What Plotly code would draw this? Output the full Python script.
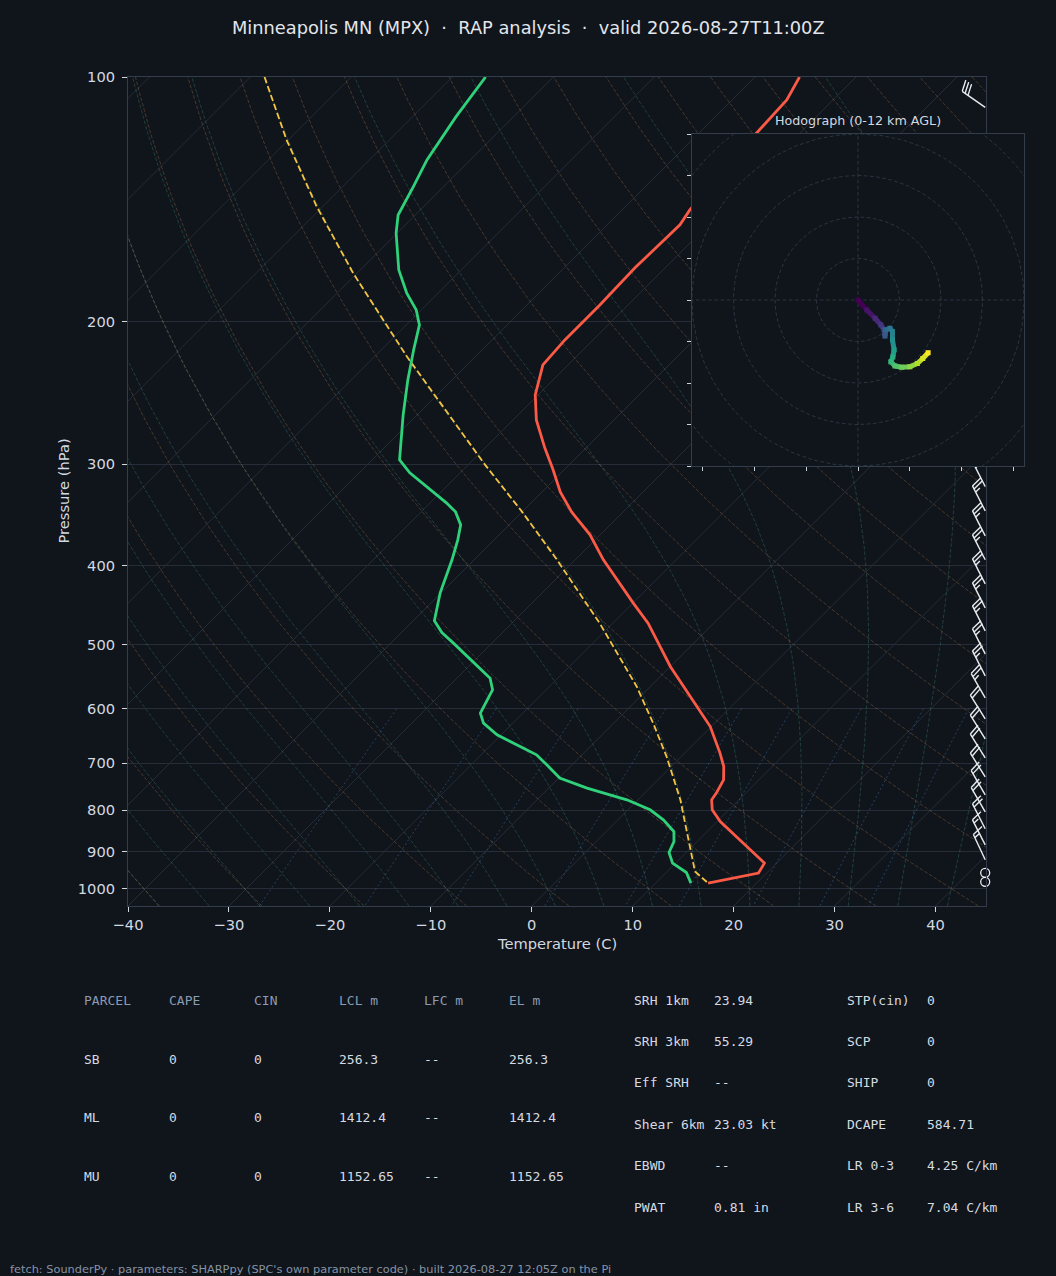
import numpy as np
import plotly.graph_objects as go
from plotly.colors import sample_colorscale

# ---------------- data ----------------
title_text = ("Minneapolis MN (MPX)\u00a0\u00a0·\u00a0\u00a0RAP analysis"
              "\u00a0\u00a0·\u00a0\u00a0valid 2026-08-27T11:00Z")

temp_p = [100, 106.7, 117.3, 145.8, 152.1, 171.8, 190.9, 210.8, 226.3, 246.3, 264.5,
          286.3, 304.7, 324.4, 343.3, 366.4, 393.3, 444.7, 470.7, 532.3, 563.4, 607.6,
          631.1, 680.5, 706.9, 734.1, 762.3, 776.9, 799.3, 826.2, 853.9, 899.6, 929.7,
          956.4, 984]
temp_c = [-55.6, -54.6, -54.3, -53.3, -52.8, -53.0, -52.8, -52.8, -52.5, -50.3, -47.7,
          -44.1, -41.1, -38.2, -35.1, -31.0, -27.2, -19.95, -16.5, -10.0, -6.7, -2.3,
          -0.1, 3.5, 5.2, 6.5, 7.1, 7.3, 8.35, 10.3, 12.7, 16.5, 18.8, 19.2, 15.2]

dew_p = [100, 111.9, 126.5, 136.4, 147.9, 155.7, 172.8, 184.6, 193.6, 202.0, 216.8,
         236.1, 260.7, 279.9, 296.2, 307.3, 320.7, 334.6, 343.3, 356.2, 371.7, 393.3,
         431.9, 467.6, 483.4, 498.2, 550.2, 568.7, 607.6, 625.0, 646.1, 683.9, 703.5,
         730.5, 751.6, 776.9, 799.3, 822.3, 850.0, 874.5, 902.2, 929.7, 954.8, 984]
dew_c = [-86.7, -85.7, -84.3, -83.0, -81.7, -80.1, -76.2, -73.1, -70.5, -68.7, -66.8,
         -64.4, -61.4, -59.1, -57.3, -55.0, -51.7, -48.4, -46.6, -44.8, -43.6, -42.2,
         -40.1, -37.9, -36.0, -33.8, -26.7, -25.3, -24.2, -22.9, -20.4, -14.5, -12.5,
         -9.9, -6.2, -1.1, 2.2, 4.5, 6.7, 7.7, 8.3, 9.7, 12.0, 13.5]

parcel_p = [100, 119.5, 144.4, 174.4, 221.0, 299.6, 343.3, 393.3, 470.7, 563.4, 625.0,
            687.2, 776.9, 862.2, 952.1, 984]
parcel_c = [-108.6, -100.2, -90.6, -80.4, -66.8, -48.5, -40.0, -31.8, -21.3, -11.35,
            -6.1, -1.45, 4.2, 8.6, 12.75, 15.2]

barb_p = [109, 140, 165, 190, 215, 240, 265, 292, 319.5, 342.3, 367.5, 393.3, 421.1,
          450.7, 481.1, 513.5, 546.6, 581.8, 617.5, 653.5, 689.7, 727.9, 766.0, 803.8,
          843.5, 882.7, 921.1, 955.6, 980.3]
barb_kt = [30, 30, 30, 30, 30, 30, 25, 25, 25, 25, 25, 25, 25,
           25, 25, 25, 25, 25, 20, 20, 20, 20, 20, 20,
           20, 15, 15, 0, 0]
barb_dir = [305, 305, 308, 310, 312, 315, 320, 325, 333, 333, 333, 333, 333,
            333, 333, 333, 333, 330, 328, 328, 328, 328, 330, 330,
            333, 333, 335, 0, 0]

hodo_u = [0, 2.1, 4.1, 5.5, 6.3, 6.5, 6.7, 7.7, 8.3, 8.3, 8.7, 8.4, 7.9, 8.9, 10.5,
          12.5, 14.3, 15.6, 16.9]
hodo_v = [0, -2.4, -4.4, -6.0, -7.2, -8.7, -7.2, -6.8, -7.6, -9.6, -12.0, -13.7, -14.9,
          -15.9, -16.2, -16.1, -15.3, -14.1, -12.7]

p_ticks = [100, 200, 300, 400, 500, 600, 700, 800, 900, 1000]
t_ticks = [-40, -30, -20, -10, 0, 10, 20, 30, 40]
t_tick_labels = ["\u221240", "\u221230", "\u221220", "\u221210", "0", "10", "20", "30", "40"]

isotherm_c = list(range(-160, 50, 10))
dry_theta_k = list(range(233, 533, 10))
moist_t0_k = list(range(233, 321, 5))
mixing_ratios = [0.0004, 0.001, 0.002, 0.004, 0.007, 0.01, 0.016, 0.024, 0.032]

table_head = ["PARCEL", "CAPE", "CIN", "LCL m", "LFC m", "EL m"]
table_rows = [["SB", "0", "0", "256.3", "--", "256.3"],
              ["ML", "0", "0", "1412.4", "--", "1412.4"],
              ["MU", "0", "0", "1152.65", "--", "1152.65"]]
param_left = [("SRH 1km", "23.94"), ("SRH 3km", "55.29"), ("Eff SRH", "--"),
              ("Shear 6km", "23.03 kt"), ("EBWD", "--"), ("PWAT", "0.81 in")]
param_right = [("STP(cin)", "0"), ("SCP", "0"), ("SHIP", "0"), ("DCAPE", "584.71"),
               ("LR 0-3", "4.25 C/km"), ("LR 3-6", "7.04 C/km")]
footer_text = ("fetch: SounderPy · parameters: SHARPpy (SPC's own parameter code) · "
               "built 2026-08-27 12:05Z on the Pi")

# ---------------- layout geometry ----------------
W, H = 1056, 1276
BG = "#10141b"
TXT = "#d3d9e0"
GRID = "#262d38"
SPINE = "#323c4a"
X0, X1, Y0, Y1 = 128, 986, 77, 906
HX0, HX1, HY0, HY1 = 692, 1024, 134, 466
P_BOT, P_TOP = 1050.0, 100.0
T_MIN, T_MAX = -40.0, 45.0
deg_per_px = (T_MAX - T_MIN) / (X1 - X0)
lnp_per_px = np.log(P_BOT / P_TOP) / (Y1 - Y0)
SKEW = deg_per_px / lnp_per_px


def skx(t, p):
    return np.asarray(t, float) + SKEW * np.log(P_BOT / np.asarray(p, float))


fig = go.Figure()


def add_multi(segs, color, width=1.0, dash=None, xa="x", ya="y"):
    xs, ys = [], []
    for x, y in segs:
        xs += list(x) + [None]
        ys += list(y) + [None]
    fig.add_trace(go.Scatter(x=xs, y=ys, mode="lines", xaxis=xa, yaxis=ya,
                             line=dict(color=color, width=width, dash=dash),
                             hoverinfo="skip", showlegend=False))


# isotherms
segs = []
for t in isotherm_c:
    pp = np.array([P_BOT, P_TOP])
    segs.append((skx(t, pp), pp))
add_multi(segs, GRID, 1.0)

# dry adiabats
pp = np.geomspace(P_BOT, P_TOP, 80)
segs = []
for th in dry_theta_k:
    t = th * (pp / 1000.0) ** 0.2857 - 273.15
    segs.append((skx(t, pp), pp))
add_multi(segs, "rgba(215,150,85,0.28)", 1.0, "3.7px,1.8px")

# moist adiabats
RD, CP, LV, EPS = 287.04749, 1004.6662, 2.50084e6, 0.62196


def dtdlnp(T, p):
    es = 6.112 * np.exp(17.67 * (T - 273.15) / (T - 29.65))
    rs = EPS * es / (p - es)
    return (RD * T + LV * rs) / (CP + LV * LV * rs * EPS / (RD * T * T))


def integrate(t0, pgrid):
    out = [t0]
    T = t0
    for i in range(len(pgrid) - 1):
        l0, l1 = np.log(pgrid[i]), np.log(pgrid[i + 1])
        h = l1 - l0
        pm = np.exp(l0 + h / 2)
        k1 = dtdlnp(T, pgrid[i])
        k2 = dtdlnp(T + h / 2 * k1, pm)
        k3 = dtdlnp(T + h / 2 * k2, pm)
        k4 = dtdlnp(T + h * k3, pgrid[i + 1])
        T = T + h / 6 * (k1 + 2 * k2 + 2 * k3 + k4)
        out.append(T)
    return np.array(out)


segs = []
p_up = np.geomspace(1000, P_TOP, 140)
p_dn = np.geomspace(1000, P_BOT, 6)
for t0 in moist_t0_k:
    tu = integrate(float(t0), p_up)
    td = integrate(float(t0), p_dn)
    p_all = np.concatenate([p_dn[::-1], p_up[1:]])
    t_all = np.concatenate([td[::-1], tu[1:]]) - 273.15
    segs.append((skx(t_all, p_all), p_all))
add_multi(segs, "rgba(70,175,150,0.28)", 1.0, "3.7px,1.8px")

# mixing ratio lines
pm_ = np.linspace(600, P_BOT, 20)
segs = []
for w in mixing_ratios:
    e = pm_ * w / (EPS + w)
    a = np.log(e / 6.112)
    tdw = 243.5 * a / (17.67 - a)
    segs.append((skx(tdw, pm_), pm_))
add_multi(segs, "rgba(70,130,200,0.40)", 1.0, "2px,2.5px")

# profiles
fig.add_trace(go.Scatter(x=skx(parcel_c, parcel_p), y=parcel_p, mode="lines",
                         line=dict(color="#f4c542", width=1.8, dash="6.5px,3px"),
                         hoverinfo="skip", showlegend=False))
fig.add_trace(go.Scatter(x=skx(temp_c, temp_p), y=temp_p, mode="lines",
                         line=dict(color="#fa5a46", width=2.8),
                         hoverinfo="skip", showlegend=False))
fig.add_trace(go.Scatter(x=skx(dew_c, dew_p), y=dew_p, mode="lines",
                         line=dict(color="#2fd27a", width=2.8),
                         hoverinfo="skip", showlegend=False))

# wind barbs (staff length / feather sizes in pixels, matplotlib-like proportions)
L_STAFF = 28.0
F_FULL = 0.4 * L_STAFF
F_SP = 0.125 * L_STAFF
F_ANG = np.arctan2(0.125, 0.4)
bx0 = T_MAX - 0.8 * deg_per_px
bxs, bys = [], []
calm_x, calm_y = [], []
for p, spd, dd in zip(barb_p, barb_kt, barb_dir):
    lnb = np.log(p)
    s5 = int(round(spd / 5.0)) * 5
    if s5 == 0:
        calm_x.append(bx0)
        calm_y.append(p)
        continue
    r = np.radians(dd)
    d = np.array([np.sin(r), -np.cos(r)])
    perp = np.array([-d[1], d[0]])

    def to_data(v):
        return bx0 + v[0] * deg_per_px, float(np.exp(lnb + v[1] * lnp_per_px))

    tip = L_STAFF * d
    pts = [to_data(np.zeros(2)), to_data(tip)]
    bxs += [pts[0][0], pts[1][0], None]
    bys += [pts[0][1], pts[1][1], None]
    n10 = s5 // 10
    n5 = (s5 % 10) // 5
    pos = 0.0
    fdir = np.cos(F_ANG) * perp + np.sin(F_ANG) * d
    fdir = fdir / np.hypot(*fdir)
    for _ in range(n10):
        q = (L_STAFF - pos) * d
        e = q + F_FULL / np.cos(F_ANG) * fdir
        a_, b_ = to_data(q), to_data(e)
        bxs += [a_[0], b_[0], None]
        bys += [a_[1], b_[1], None]
        pos += F_SP
    if n5:
        if n10 == 0:
            pos = F_SP
        q = (L_STAFF - pos) * d
        e = q + 0.5 * F_FULL / np.cos(F_ANG) * fdir
        a_, b_ = to_data(q), to_data(e)
        bxs += [a_[0], b_[0], None]
        bys += [a_[1], b_[1], None]
fig.add_trace(go.Scatter(x=bxs, y=bys, mode="lines", line=dict(color="#e8edf2", width=1.4),
                         hoverinfo="skip", showlegend=False))
fig.add_trace(go.Scatter(x=calm_x, y=calm_y, mode="markers", cliponaxis=False,
                         marker=dict(symbol="circle-open", size=9, color="#e8edf2",
                                     line=dict(color="#e8edf2", width=1.3)),
                         hoverinfo="skip", showlegend=False))

# ---------------- hodograph ----------------
ring_r = [10, 20, 30, 40, 50, 60]
th = np.linspace(0, 2 * np.pi, 241)
segs = [(r * np.cos(th), r * np.sin(th)) for r in ring_r]
segs += [([-60, 60], [0, 0]), ([0, 0], [-60, 60])]
add_multi(segs, "#2b3542", 1.0, "3.7px,2.5px", xa="x2", ya="y2")

n = len(hodo_u)
cols = sample_colorscale("Viridis", [i / (n - 1) for i in range(n)])
for i in range(n - 1):
    fig.add_trace(go.Scatter(x=hodo_u[i:i + 2], y=hodo_v[i:i + 2], mode="lines",
                             xaxis="x2", yaxis="y2",
                             line=dict(color=cols[i], width=5),
                             hoverinfo="skip", showlegend=False))
fig.add_trace(go.Scatter(x=hodo_u, y=hodo_v, mode="markers", xaxis="x2", yaxis="y2",
                         marker=dict(symbol="square", size=5, color=cols),
                         hoverinfo="skip", showlegend=False))

# ---------------- annotations ----------------
ann = []


def txt(x, y, s, size, color=TXT, family="DejaVu Sans", xanchor="left", angle=0):
    ann.append(dict(x=x / W, y=1 - y / H, xref="paper", yref="paper", text=s,
                    showarrow=False, xanchor=xanchor, yanchor="middle", textangle=angle,
                    font=dict(size=size, color=color, family=family)))


txt(W / 2, 27, title_text, 17.8, "#e2e6eb", xanchor="center")
txt((X0 + X1) / 2, 943, "Temperature (C)", 14.67, xanchor="center")
txt(63, (Y0 + Y1) / 2, "Pressure (hPa)", 14.67, xanchor="center", angle=-90)
txt((HX0 + HX1) / 2, 120, "Hodograph (0-12 km AGL)", 12.7, xanchor="center")

MONO = "DejaVu Sans Mono"
col_x = [82, 167, 252, 337, 422, 507]
for cx, h in zip(col_x, table_head):
    txt(cx, 1000, h, 13, "#8b9bb3", MONO)
for ri, row in enumerate(table_rows):
    for cx, v in zip(col_x, row):
        txt(cx, 1059 + ri * 58.7, v, 13, "#d5dbe2", MONO)
for ri, (k, v) in enumerate(param_left):
    txt(632, 1000 + ri * 41.4, k, 13, "#d5dbe2", MONO)
    txt(712, 1000 + ri * 41.4, v, 13, "#d5dbe2", MONO)
for ri, (k, v) in enumerate(param_right):
    txt(845, 1000 + ri * 41.4, k, 13, "#d5dbe2", MONO)
    txt(925, 1000 + ri * 41.4, v, 13, "#d5dbe2", MONO)
txt(8, 1269, footer_text, 11.35, "#8693a5")

axis_common = dict(zeroline=False, showline=True, linecolor=SPINE, linewidth=1, mirror=True)
fig.update_layout(
    width=W, height=H, margin=dict(l=0, r=0, t=0, b=0, pad=0, autoexpand=False),
    autosize=False,
    paper_bgcolor=BG, plot_bgcolor=BG, showlegend=False,
    font=dict(family="DejaVu Sans", color=TXT, size=14.67),
    annotations=ann,
    xaxis=dict(domain=[X0 / W, X1 / W], range=[T_MIN, T_MAX], anchor="y",
               tickvals=t_ticks, ticktext=t_tick_labels, ticks="outside", ticklen=5,
               tickcolor=TXT, showgrid=False, tickfont=dict(size=14.67, color=TXT),
               automargin=False, **axis_common),
    yaxis=dict(domain=[1 - Y1 / H, 1 - Y0 / H], type="log",
               range=[np.log10(P_BOT), np.log10(P_TOP)], anchor="x",
               tickvals=p_ticks, ticktext=[str(v) for v in p_ticks], ticks="outside",
               ticklen=5, tickcolor=TXT, showgrid=True, gridcolor=GRID, gridwidth=1,
               ticklabelstandoff=4,
               tickfont=dict(size=14.67, color=TXT), automargin=False, **axis_common),
    xaxis2=dict(domain=[HX0 / W, HX1 / W], range=[-40, 40], anchor="y2",
                tickvals=[-37.5, -25, -12.5, 0, 12.5, 25, 37.5], showticklabels=False,
                ticks="outside", ticklen=4, tickcolor="#c9d1d9", showgrid=False,
                automargin=False, **axis_common),
    yaxis2=dict(domain=[1 - HY1 / H, 1 - HY0 / H], range=[-40, 40], anchor="x2",
                tickvals=list(range(-40, 41, 10)), showticklabels=False,
                ticks="outside", ticklen=4, tickcolor="#c9d1d9", showgrid=False,
                automargin=False, **axis_common),
)

post_js = ("document.documentElement.style.margin='0';"
           "document.documentElement.style.overflow='hidden';"
           "document.body.style.margin='0';document.body.style.padding='0';"
           "document.body.style.overflow='hidden';"
           "document.body.style.background='" + BG + "';")
fig.write_html("out.html", post_script=post_js,
               config={"responsive": False, "displayModeBar": False})
